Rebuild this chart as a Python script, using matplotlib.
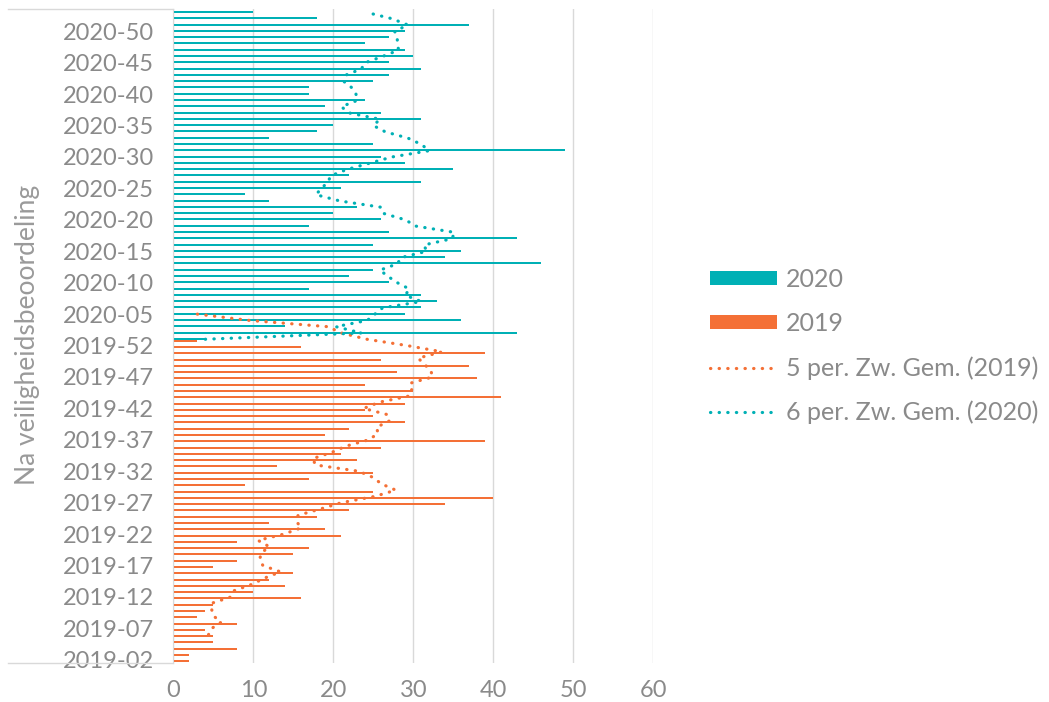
import numpy as np
import pandas as pd
import matplotlib
matplotlib.use("Agg")
import matplotlib.pyplot as plt

plt.rcParams['font.family'] = ['Lato', 'DejaVu Sans']

# categorieen: 2019-02 .. 2019-52 en 2020-01 .. 2020-53
weeks_2019 = ["2019-%02d" % w for w in range(2, 53)]
weeks_2020 = ["2020-%02d" % w for w in range(1, 54)]
categories = weeks_2019 + weeks_2020

# 2019 reeks loopt van 2019-02 t/m 2020-01
vals_2019 = [2, 2, 8, 5, 5, 4, 8, 3, 4, 5, 16, 10, 14, 12, 15, 5, 8, 15, 17, 8,
             21, 19, 12, 18, 22, 34, 40, 25, 9, 17, 25, 13, 23, 21, 26, 39, 19, 22,
             29, 25, 24, 29, 41, 30, 24, 38, 28, 37, 26, 39, 16, 3]
# 2020 reeks loopt van 2020-01 t/m 2020-53
vals_2020 = [4, 43, 14, 36, 29, 31, 33, 31, 17, 27, 22, 25, 46, 34, 36, 25, 43, 27,
             17, 26, 20, 23, 12, 9, 21, 31, 22, 35, 29, 26, 49, 25, 12, 18, 20, 31,
             26, 19, 24, 17, 17, 25, 27, 31, 27, 30, 29, 24, 27, 29, 37, 18, 10]

n = len(categories)
s2019 = pd.Series(np.nan, index=range(n))
s2019.iloc[:len(vals_2019)] = vals_2019
s2020 = pd.Series(np.nan, index=range(n))
s2020.iloc[len(weeks_2019):] = vals_2020


def moving_avg(s, period):
    # zoals de Excel trendlijn: gemiddelde van de niet-lege waarden in het venster
    m = s.rolling(period, min_periods=1).mean()
    m.iloc[:period - 1] = np.nan
    return m


ma2019 = moving_avg(s2019, 5)
ma2020 = moving_avg(s2020, 6)

c2020 = '#00b0b5'
c2019 = '#f47036'
grid_c = '#d9d9d9'
txt_c = '#8a8a8a'

fig = plt.figure(figsize=(10.49, 7.02), dpi=100)
ax = fig.add_axes([0.1652, 0.0556, 0.4576, 0.9312])

y = np.arange(n)
b19 = ax.barh(y - 0.24, s2019.values, height=0.32, color=c2019, zorder=2)
b20 = ax.barh(y + 0.06, s2020.values, height=0.32, color=c2020, zorder=2)

l19, = ax.plot(ma2019.values, y, color=c2019, lw=2.3, dashes=(0.1, 2.6),
               dash_capstyle='round', zorder=3)
l20, = ax.plot(ma2020.values, y, color=c2020, lw=2.3, dashes=(0.1, 2.6),
               dash_capstyle='round', zorder=3)

ax.set_xlim(0, 60)
ax.set_ylim(-0.5, n - 0.5)
ax.set_xticks(range(0, 61, 10))
ax.set_yticks(y[::5])
ax.set_yticklabels(categories[::5])
ax.tick_params(axis='both', length=0, colors=txt_c, labelsize=17)
ax.tick_params(axis='y', pad=14)
ax.tick_params(axis='x', pad=12)
ax.grid(axis='x', color=grid_c, lw=1, zorder=0)
for sp in ['top', 'right', 'bottom']:
    ax.spines[sp].set_visible(False)
ax.spines['left'].set_color(grid_c)
ax.set_axisbelow(True)

# lijntjes links van de as, boven en onder
for yy in (0, 1):
    ax.plot([-0.344, 0], [yy, yy], transform=ax.transAxes, color=grid_c,
            lw=1, clip_on=False)

fig.text(0.026, 0.523, 'Na veiligheidsbeoordeling', rotation=90,
         ha='center', va='center', color='#9a9a9a', fontsize=19)

leg = fig.legend([b20, b19, l19, l20],
                 ['2020', '2019', '5 per. Zw. Gem. (2019)', '6 per. Zw. Gem. (2020)'],
                 loc='center left', bbox_to_anchor=(0.677, 0.507),
                 frameon=False, fontsize=18, labelcolor=txt_c,
                 handlelength=2.68, handleheight=0.52, labelspacing=0.84,
                 handletextpad=0.36, borderpad=0, borderaxespad=0)

fig.savefig('out.png', dpi=100)
